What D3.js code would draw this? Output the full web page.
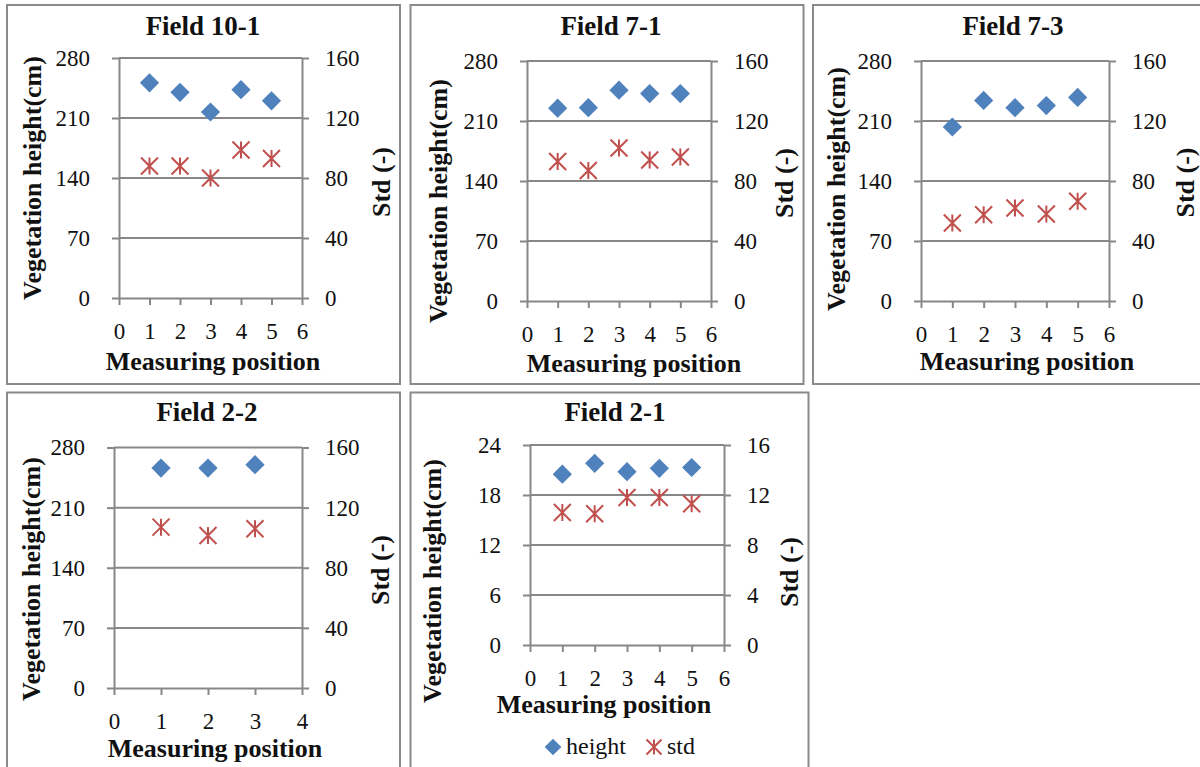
<!DOCTYPE html>
<html lang="en">
  <head>
    <meta charset="UTF-8" />
    <title>Vegetation height per field</title>
    <style>
      body {
        margin: 0;
        background: #fff;
      }
      svg text {
        font-family: 'Liberation Serif', 'Times New Roman', serif;
        fill: #111;
      }
      .axis path,
      .axis line,
      .grid {
        fill: none;
        stroke: #878787;
        stroke-width: 2;
      }
      .frame {
        fill: none;
        stroke: #8a8a8a;
        stroke-width: 2;
      }
    </style>
  </head>
  <body>
    <div id="chart"></div>

    <script src="https://d3js.org/d3.v7.min.js"></script>
    <script>
      // data
      const fields = ['Field 10-1', 'Field 7-1', 'Field 7-3', 'Field 2-2', 'Field 2-1'];
      const positions = [
        [1, 2, 3, 4, 5],
        [1, 2, 3, 4, 5],
        [1, 2, 3, 4, 5],
        [1, 2, 3],
        [1, 2, 3, 4, 5],
      ];
      const heights = [
        [251, 240, 217, 243, 230],
        [225, 225.5, 246, 242, 242],
        [203, 234, 225.5, 228, 237.5],
        [256, 256, 260],
        [20.5, 21.8, 20.8, 21.2, 21.3],
      ];
      const stds = [
        [88, 88, 80, 98.7, 93],
        [93, 87, 102, 94, 96],
        [52, 57.5, 62, 58, 66.5],
        [107, 101.5, 106],
        [10.6, 10.5, 11.8, 11.8, 11.3],
      ];
      const leftTicks = [
        [0, 70, 140, 210, 280],
        [0, 70, 140, 210, 280],
        [0, 70, 140, 210, 280],
        [0, 70, 140, 210, 280],
        [0, 6, 12, 18, 24],
      ];
      const rightTicks = [
        [0, 40, 80, 120, 160],
        [0, 40, 80, 120, 160],
        [0, 40, 80, 120, 160],
        [0, 40, 80, 120, 160],
        [0, 4, 8, 12, 16],
      ];
      const xTicks = [
        [0, 1, 2, 3, 4, 5, 6],
        [0, 1, 2, 3, 4, 5, 6],
        [0, 1, 2, 3, 4, 5, 6],
        [0, 1, 2, 3, 4],
        [0, 1, 2, 3, 4, 5, 6],
      ];
      const seriesNames = ['height', 'std'];

      // layout of each panel (pixels)
      const layout = [
        { frame: [7, 5, 393, 379], plot: [119, 302, 58, 298], title: [203, 35], ylab: [32, 178], y2lab: [381, 182], xlab: [213, 370] },
        { frame: [410.5, 5, 393, 379], plot: [527, 711, 61, 301], title: [611, 35], ylab: [437.5, 201], y2lab: [784, 183], xlab: [634, 372] },
        { frame: [813, 5, 400, 379], plot: [921, 1109, 61, 301], title: [1013, 35], ylab: [836, 189], y2lab: [1185, 182.5], xlab: [1027, 370] },
        { frame: [7, 392.5, 393, 400], plot: [114, 302, 447.5, 688], title: [207, 421], ylab: [31, 579], y2lab: [380, 570], xlab: [215, 757] },
        { frame: [410.5, 392.5, 398, 400], plot: [530, 724, 445, 645], title: [615, 421], ylab: [432, 581], y2lab: [789, 572], xlab: [604, 713] },
      ];

      const blue = '#4f81bd';
      const red = '#c0504d';

      const svg = d3
        .select('#chart')
        .append('svg')
        .attr('width', 1200)
        .attr('height', 767);

      const diamond = d3.symbol().type(d3.symbolSquare).size(185)();

      function star(g, cx, cy, r) {
        const p = d3.path();
        p.moveTo(cx - r, cy - r);
        p.lineTo(cx + r, cy + r);
        p.moveTo(cx + r, cy - r);
        p.lineTo(cx - r, cy + r);
        p.moveTo(cx, cy - r);
        p.lineTo(cx, cy + r);
        g.append('path')
          .attr('d', p.toString())
          .attr('stroke', red)
          .attr('stroke-width', 2)
          .attr('fill', 'none');
      }

      fields.forEach((name, i) => {
        const L = layout[i];
        const [pl, pr, pt, pb] = L.plot;
        const g = svg.append('g');

        g.append('rect')
          .attr('class', 'frame')
          .attr('x', L.frame[0])
          .attr('y', L.frame[1])
          .attr('width', L.frame[2])
          .attr('height', L.frame[3]);

        const lt = leftTicks[i];
        const rt = rightTicks[i];
        const xt = xTicks[i];
        const x = d3.scaleLinear().domain([0, xt[xt.length - 1]]).range([pl, pr]);
        const y = d3.scaleLinear().domain([0, lt[lt.length - 1]]).range([pb, pt]);
        const y2 = d3.scaleLinear().domain([0, rt[rt.length - 1]]).range([pb, pt]);

        // gridlines
        g.selectAll('.grid')
          .data(lt.filter((v) => v > 0))
          .enter()
          .append('line')
          .attr('class', 'grid')
          .attr('x1', pl)
          .attr('x2', pr)
          .attr('y1', (d) => y(d))
          .attr('y2', (d) => y(d));

        const axisFont = (sel) =>
          sel
            .attr('font-family', null)
            .attr('font-size', null)
            .selectAll('text')
            .style('font-size', '23px');

        g.append('g')
          .attr('class', 'axis')
          .attr('transform', `translate(${pl},0)`)
          .call(d3.axisLeft(y).tickValues(lt).tickSize(7).tickSizeOuter(0).tickPadding(22).tickFormat(d3.format('d')))
          .call(axisFont);

        g.append('g')
          .attr('class', 'axis')
          .attr('transform', `translate(${pr},0)`)
          .call(d3.axisRight(y2).tickValues(rt).tickSize(7).tickSizeOuter(0).tickPadding(16).tickFormat(d3.format('d')))
          .call(axisFont);

        g.append('g')
          .attr('class', 'axis')
          .attr('transform', `translate(0,${pb})`)
          .call(d3.axisBottom(x).tickValues(xt).tickSize(7).tickSizeOuter(0).tickPadding(18).tickFormat(d3.format('d')))
          .call(axisFont);

        // height markers
        g.selectAll('.hpt')
          .data(positions[i].map((p, j) => [p, heights[i][j]]))
          .enter()
          .append('path')
          .attr('class', 'hpt')
          .attr('d', diamond)
          .attr('fill', blue)
          .attr('transform', (d) => `translate(${x(d[0])},${y(d[1])}) rotate(45)`);

        // std markers
        positions[i].forEach((p, j) => star(g, x(p), y2(stds[i][j]), 8.5));

        // titles
        g.append('text')
          .attr('x', L.title[0])
          .attr('y', L.title[1])
          .attr('text-anchor', 'middle')
          .style('font-size', '27px')
          .style('font-weight', 'bold')
          .text(name);

        g.append('text')
          .attr('transform', `translate(${L.ylab[0]},${L.ylab[1]}) rotate(-90)`)
          .attr('dy', '0.35em')
          .attr('text-anchor', 'middle')
          .style('font-size', '26px')
          .style('font-weight', 'bold')
          .text('Vegetation height(cm)');

        g.append('text')
          .attr('transform', `translate(${L.y2lab[0]},${L.y2lab[1]}) rotate(-90)`)
          .attr('dy', '0.35em')
          .attr('text-anchor', 'middle')
          .style('font-size', '26px')
          .style('font-weight', 'bold')
          .text('Std (-)');

        g.append('text')
          .attr('x', L.xlab[0])
          .attr('y', L.xlab[1])
          .attr('text-anchor', 'middle')
          .style('font-size', '26px')
          .style('font-weight', 'bold')
          .text('Measuring position');
      });

      // Legend (in the Field 2-1 panel)
      const legend = svg.append('g').attr('transform', 'translate(553,747)');
      legend
        .append('path')
        .attr('d', d3.symbol().type(d3.symbolSquare).size(140)())
        .attr('fill', blue)
        .attr('transform', 'rotate(45)');
      legend
        .append('text')
        .attr('x', 13)
        .attr('y', 7)
        .style('font-size', '24px')
        .text(seriesNames[0]);
      star(legend, 101, 0, 7.5);
      legend
        .append('text')
        .attr('x', 114)
        .attr('y', 7)
        .style('font-size', '24px')
        .text(seriesNames[1]);
    </script>
  </body>
</html>
